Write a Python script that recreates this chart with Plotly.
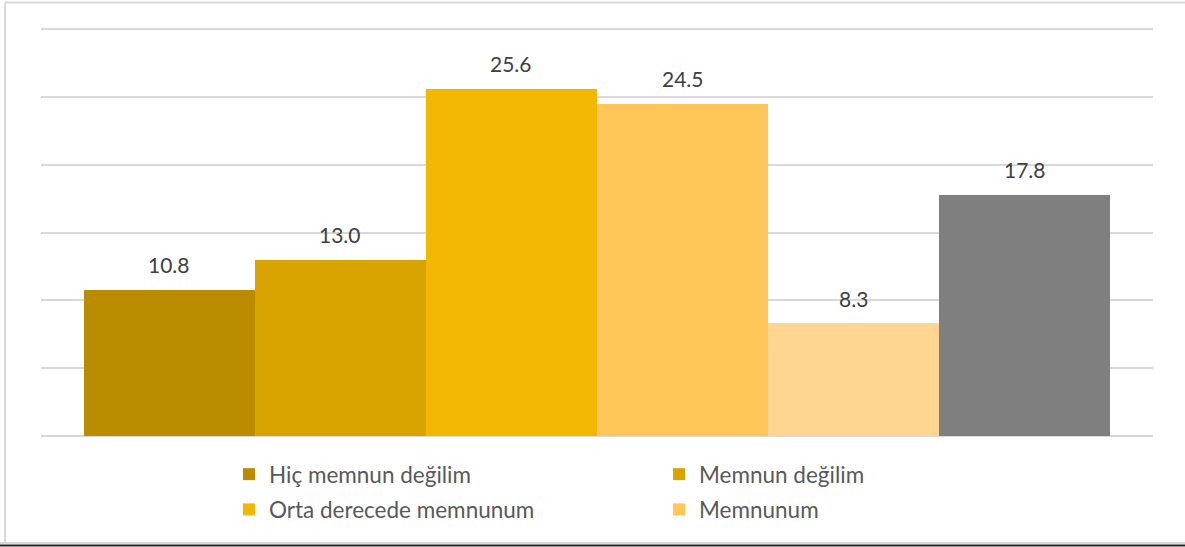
import plotly.graph_objects as go

series = ["Hiç memnun değilim", "Memnun değilim", "Orta derecede memnunum",
          "Memnunum", "Çok memnunum", "Fikrim yok"]
values = [10.8, 13.0, 25.6, 24.5, 8.3, 17.8]
labels = ["10.8", "13.0", "25.6", "24.5", "8.3", "17.8"]
colors = ["#BC8C00", "#DAA400", "#F2B700", "#FFC75A", "#FFD592", "#7F7F7F"]
legend_ids = ["legend", "legend2", "legend", "legend2", None, None]

fig = go.Figure()
for i, (name, v, c, lg) in enumerate(zip(series, values, colors, legend_ids)):
    kw = dict(x=[name], y=[v], name=name, marker=dict(color=c, line=dict(width=0)),
              width=1, hoverinfo="skip", legendgroup=name)
    if lg is None:
        kw["showlegend"] = False
    else:
        kw["legend"] = lg
    fig.add_trace(go.Bar(**kw))

for name, v, t in zip(series, values, labels):
    fig.add_annotation(x=name, y=v, text=t, showarrow=False, yanchor="middle",
                       yshift=25, font=dict(family="Lato", size=21, color="#404040"))

W, H = 1185, 547
YMAX = 30.3
L, R, B = 41, 1153, 436
T = B - (B - 29) * YMAX / 30.0
pw, ph = R - L, B - T
def px(x): return (x - L) / pw
def py(y): return (B - y) / ph

# outer chart border
fig.add_shape(type="line", xref="paper", yref="paper", x0=px(5), x1=px(5), y0=py(2.5), y1=py(544),
              line=dict(color="#D9D9D9", width=2))
fig.add_shape(type="line", xref="paper", yref="paper", x0=px(5), x1=px(1190), y0=py(2.5), y1=py(2.5),
              line=dict(color="#D9D9D9", width=2))
fig.add_shape(type="line", xref="paper", yref="paper", x0=px(0), x1=px(1190), y0=py(543), y1=py(543),
              line=dict(color="#D9D9D9", width=2))
fig.add_shape(type="line", xref="paper", yref="paper", x0=px(0), x1=px(1190), y0=py(545.5), y1=py(545.5),
              line=dict(color="#262626", width=2))

legend_common = dict(orientation="v", yanchor="top", xanchor="left", bgcolor="rgba(0,0,0,0)",
                     font=dict(family="Lato", size=22.5, color="#595959"),
                     tracegroupgap=3, itemclick=False, itemdoubleclick=False)
fig.update_layout(
    width=W, height=H,
    margin=dict(l=L, r=W - R, t=T, b=H - B),
    paper_bgcolor="white", plot_bgcolor="white",
    barmode="overlay", bargap=0,
    showlegend=True,
    legend=dict(x=px(229), y=py(453), **legend_common),
    legend2=dict(x=px(659), y=py(453), **legend_common),
    xaxis=dict(type="category", range=[-0.751, 5.751], showticklabels=False, showgrid=False,
               zeroline=False, showline=False, fixedrange=True),
    yaxis=dict(range=[0, YMAX], tick0=0, dtick=5, showticklabels=False, showgrid=True,
               gridcolor="#D9D9D9", gridwidth=1.5, zeroline=True, zerolinecolor="#D9D9D9",
               zerolinewidth=1.5, showline=False, fixedrange=True),
)
fig.write_html("out.html")
